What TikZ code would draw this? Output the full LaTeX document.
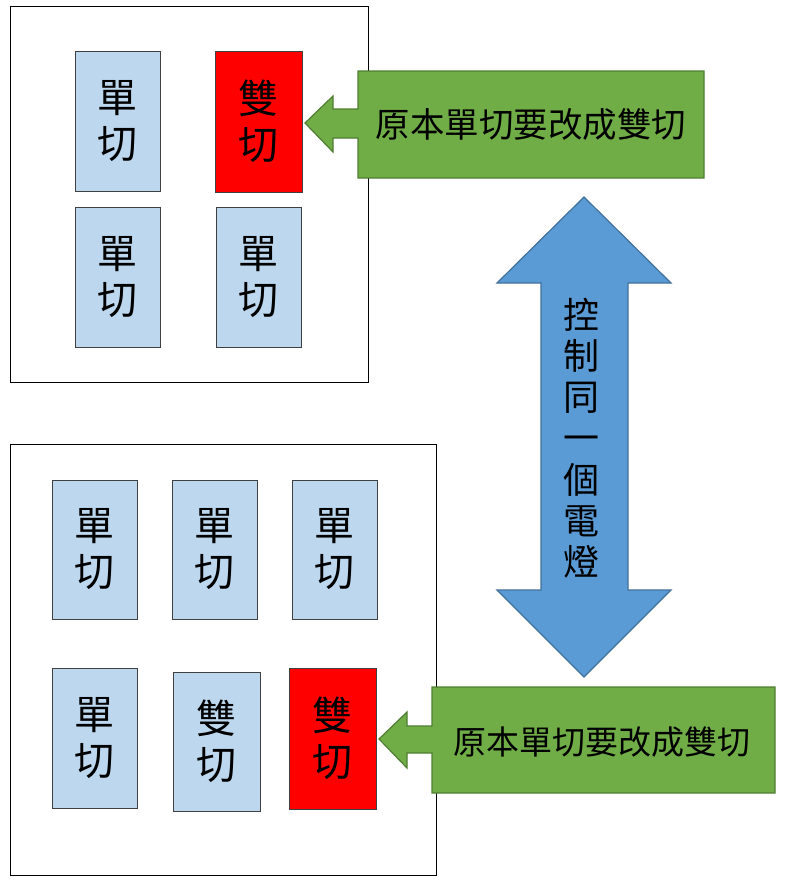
\documentclass[tikz,border=0pt]{standalone}
\usepackage{fontspec}
\newfontfamily\cjk{Noto Sans CJK TC}
\usetikzlibrary{calc}
\definecolor{swblue}{HTML}{BDD7EE}
\definecolor{swred}{HTML}{FF0000}
\definecolor{swedge}{HTML}{404040}
\definecolor{callgreen}{HTML}{70AD47}
\definecolor{calledge}{HTML}{507E32}
\definecolor{linkblue}{HTML}{5B9BD5}
\definecolor{linkedge}{HTML}{41719C}
\tikzset{
  plate/.style={draw=black, line width=0.8pt, minimum width=#1, inner sep=0pt, outer sep=0pt},
  sw/.style={draw=swedge, fill=swblue, line width=0.8pt, minimum width=85pt, minimum height=140pt,
    inner sep=0pt, outer sep=0pt, align=center, font=\cjk\fontsize{40}{46}\selectfont},
  swnew/.style={sw, fill=swred, minimum width=87pt, minimum height=141pt},
  callbox/.style={minimum height=106pt, inner sep=0pt, outer sep=0pt, font=\cjk\fontsize{33}{40}\selectfont},
  callout/.style={draw=calledge, fill=callgreen, line width=1.2pt, line join=miter},
}
\begin{document}
\begin{tikzpicture}[x=1pt,y=-1pt]
\useasboundingbox[fill=white] (0,0) rectangle (793,891);
% top room
\node[plate=358pt, minimum height=376pt] (fr0) at (189,194){};
\node[sw] (sw1) at (117.5,121){單\\切};
\node[swnew] (sw2) at (258.5,121.5){雙\\切};
\node[sw] (sw3) at (117.5,277){單\\切};
\node[sw] (sw4) at (258.5,277){單\\切};
% bottom room
\node[plate=426pt, minimum height=431pt] (fr1) at (223,659.5){};
\node[sw, minimum height=139pt] (sw5) at (94.5,549.5){單\\切};
\node[sw, minimum height=139pt] (sw6) at (214.5,549.5){單\\切};
\node[sw, minimum height=139pt] (sw7) at (334.5,549.5){單\\切};
\node[sw, minimum height=140pt] (sw8) at (94.5,738){單\\切};
\node[sw, minimum width=87pt, minimum height=139pt] (sw9) at (216.5,741.5){雙\\切};
\node[swnew] (sw10) at (332.5,738.5){雙\\切};
% callouts
\node[callbox, minimum width=346pt, minimum height=107pt] (callA) at (531,124.5){};
\coordinate (tipA) at (305,123);
\draw[callout] (callA.north west) -- (callA.north east) -- (callA.south east) -- (callA.south west)
  -- ++(0,-40) -- ++(-25,0) -- ++(0,14) -- (tipA) -- ++(28,-27) -- ++(0,13) -- ++(25,0) -- cycle;
\node[callbox, font=\cjk\fontsize{34.5}{40}\selectfont] at (callA.center){原本單切要改成雙切};
\node[callbox, minimum width=343pt] (callB) at (603.5,740){};
\coordinate (tipB) at (379,739);
\draw[callout] (callB.north west) -- (callB.north east) -- (callB.south east) -- (callB.south west)
  -- ++(0,-40) -- ++(-25,0) -- ++(0,15) -- (tipB) -- ++(28,-27) -- ++(0,14) -- ++(25,0) -- cycle;
\node[callbox] at ($(callB.center)+(-2,2)$){原本單切要改成雙切};
% same lamp
\draw[draw=linkedge, fill=linkblue, line width=1.2pt] (584,197) -- (671,283) -- (628,283) -- (628,590)
  -- (671,590) -- (584,677) -- (497,590) -- (541,590) -- (541,283) -- (497,283) -- cycle;
\node[align=center, inner sep=0pt, font=\cjk\fontsize{36}{41.2}\selectfont] (lamp) at (581,438)
  {控\\制\\同\\一\\個\\電\\燈};
\end{tikzpicture}
\end{document}
